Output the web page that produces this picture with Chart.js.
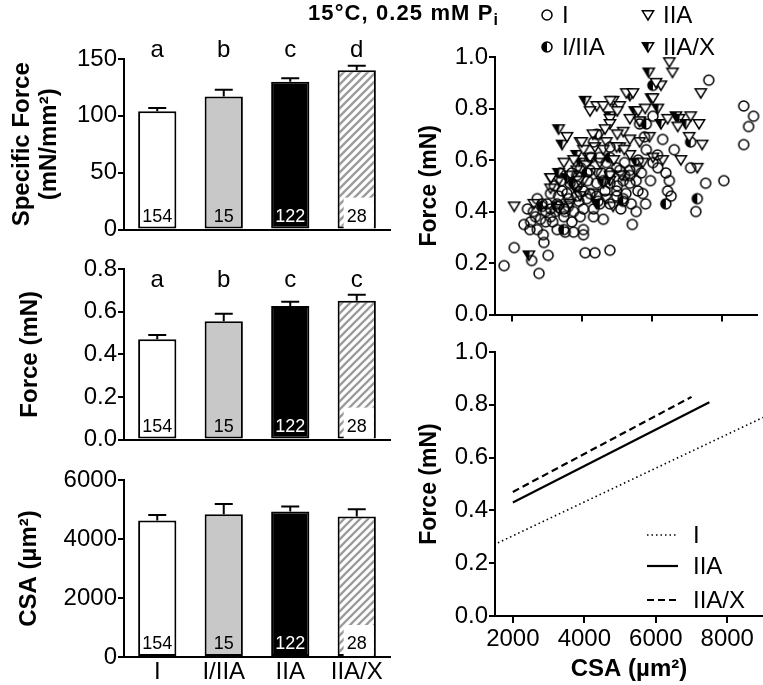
<!DOCTYPE html>
<html>
<head>
<meta charset="utf-8">
<script src="https://cdn.jsdelivr.net/npm/chart.js@4/dist/chart.umd.min.js"></script>
<style>
  body { margin: 0; background: #fff; }
  #wrap { position: relative; width: 763px; height: 685px; overflow: hidden; }
  canvas { position: absolute; }
  #title {
    position: absolute; left: 308px; top: 0px;
    font: bold 22px "Liberation Sans", Arial, sans-serif; letter-spacing: 1.1px;
    color: #000; white-space: nowrap;
  }
  #title sub { font-size: 16px; }
</style>
</head>
<body>
<div id="wrap">
  <canvas id="cA" width="392" height="245" style="left:0;top:0"></canvas>
  <canvas id="cB" width="392" height="210" style="left:0;top:245px"></canvas>
  <canvas id="cC" width="392" height="230" style="left:0;top:455px"></canvas>
  <canvas id="cD" width="378" height="330" style="left:385px;top:0"></canvas>
  <canvas id="cE" width="378" height="355" style="left:385px;top:330px"></canvas>
  <div id="title">15°C, 0.25 mM P<sub>i</sub></div>
</div>
<script>
// ---- data ----
const categories = ['I', 'I/IIA', 'IIA', 'IIA/X'];
const nFibers = [154, 15, 122, 28];

const specForce = [104, 117, 130, 140];
const specForceSem = [3, 6, 3, 4];
const specForceLetters = ['a', 'b', 'c', 'd'];

const force = [0.47, 0.555, 0.627, 0.651];
const forceSem = [0.021, 0.035, 0.02, 0.028];
const forceLetters = ['a', 'b', 'c', 'c'];

const csa = [4630, 4840, 4930, 4760];
const csaSem = [180, 350, 170, 250];

const csaTicks = [2000, 4000, 6000, 8000];

// scatter: type I fibres
const csaI = [1760, 2050, 2550, 2760, 3020, 2900, 2880, 2520, 2500, 2660, 2800, 2950, 2710, 2850, 3090, 3280, 3510, 3750,
  4030, 4030, 4080, 4360, 4790, 4320, 4600, 4030, 3470, 3610, 3840, 4130, 4410, 4790, 4980, 5170, 5400, 5590, 5730, 5810,
  5540, 5430, 5360, 5690, 6020, 6160, 6390, 6490, 6440, 6540, 6630, 6300, 5830, 5780, 5640, 6020, 7100, 7250, 7530, 8050,
  7620, 8620, 8900, 8760, 8620, 5360, 5170, 4790, 4500, 4320, 4220, 3840, 3650, 3420, 3280, 3230, 3470, 3750, 3940, 4320,
  4790, 4980, 5070, 4690, 3090, 2990, 3320, 3560, 3840, 4030, 4220, 4410, 4600, 4790, 4980, 5210, 5360, 5540, 3370, 3510,
  3700, 3090, 2710, 2330, 2430, 3200, 3600, 3900, 4150, 4450, 4650, 5000, 5250, 2600, 2950, 3150, 3950, 4250, 4550, 5100,
  5600, 5950, 6150, 3400, 3700];
const forceI = [0.19, 0.26, 0.21, 0.16, 0.23, 0.28, 0.31, 0.36, 0.33, 0.38, 0.37, 0.36, 0.45, 0.43, 0.41, 0.33, 0.32, 0.32,
  0.33, 0.31, 0.24, 0.24, 0.25, 0.38, 0.37, 0.41, 0.41, 0.45, 0.46, 0.45, 0.46, 0.43, 0.46, 0.45, 0.43, 0.48, 0.47, 0.43,
  0.40, 0.35, 0.51, 0.55, 0.59, 0.57, 0.55, 0.52, 0.48, 0.46, 0.64, 0.68, 0.64, 0.69, 0.74, 0.77, 0.57, 0.40, 0.51, 0.52,
  0.91, 0.81, 0.77, 0.73, 0.66, 0.56, 0.52, 0.65, 0.61, 0.67, 0.56, 0.54, 0.51, 0.48, 0.43, 0.40, 0.38, 0.40, 0.38, 0.41,
  0.51, 0.48, 0.56, 0.59, 0.47, 0.43, 0.46, 0.47, 0.50, 0.48, 0.47, 0.51, 0.52, 0.55, 0.57, 0.59, 0.54, 0.52, 0.55, 0.40,
  0.36, 0.38, 0.33, 0.35, 0.41, 0.50, 0.42, 0.44, 0.52, 0.44, 0.48, 0.50, 0.47, 0.40, 0.40, 0.36, 0.57, 0.61, 0.55, 0.41,
  0.60, 0.52, 0.62, 0.52, 0.55];

// scatter: type IIA fibres
const csaIIA = [2050, 2610, 3090, 3560, 3940, 4410, 4600, 4880, 5070, 5260, 5450, 4220, 4790, 5360, 5640, 6020, 6250, 6490,
  6580, 6110, 7390, 7100, 7340, 7430, 7060, 6730, 6440, 6300, 6820, 7290, 6020, 5920, 5640, 5360, 5170, 4790, 4690, 4360,
  4030, 3750, 4220, 4600, 4980, 5360, 5730, 5540, 3470, 3840, 3090, 3320, 3650, 4030, 4410, 4790, 5120, 4880, 4690, 4320,
  3940, 3650, 3320, 4800, 5000, 3980, 3100, 4100, 4500, 4900, 5200, 3900, 4300, 4650, 5000, 5600, 5800];
const forceIIA = [0.42, 0.43, 0.53, 0.69, 0.67, 0.81, 0.81, 0.83, 0.81, 0.86, 0.86, 0.79, 0.76, 0.76, 0.75, 0.84, 0.89, 0.98,
  0.94, 0.90, 0.86, 0.77, 0.74, 0.66, 0.69, 0.73, 0.76, 0.60, 0.60, 0.57, 0.61, 0.69, 0.67, 0.68, 0.71, 0.74, 0.67, 0.65,
  0.64, 0.60, 0.61, 0.64, 0.65, 0.62, 0.59, 0.56, 0.59, 0.56, 0.49, 0.52, 0.54, 0.52, 0.55, 0.54, 0.54, 0.42, 0.45, 0.47,
  0.46, 0.43, 0.41, 0.83, 0.79, 0.67, 0.53, 0.58, 0.59, 0.60, 0.64, 0.52, 0.70, 0.72, 0.70, 0.79, 0.80];

// scatter: hybrid I/IIA fibres
const csaMix = [6020, 7100, 7290, 6390, 5170, 4500, 3470, 3280, 5210, 4130, 4410, 4790, 5830, 3750, 2850];
const forceMix = [0.89, 0.67, 0.45, 0.43, 0.44, 0.43, 0.33, 0.42, 0.54, 0.55, 0.70, 0.61, 0.74, 0.51, 0.42];

// scatter: hybrid IIA/X fibres
const csaIIAX = [3320, 3420, 4080, 5900, 5970, 6160, 5360, 4790, 4500, 5070, 5540, 5500, 5640, 6250, 6680, 6770, 6960,
  3840, 3320, 4220, 2470, 3560, 4790, 4410, 3940, 4600, 3280, 3840];
const forceIIAX = [0.72, 0.66, 0.83, 0.94, 0.84, 0.80, 0.85, 0.77, 0.70, 0.65, 0.59, 0.79, 0.75, 0.74, 0.77, 0.76, 0.74,
  0.62, 0.55, 0.60, 0.23, 0.53, 0.52, 0.43, 0.59, 0.51, 0.42, 0.48];

// regression lines (end points)
const fitCsaI = [1580, 9000];
const fitForceI = [0.277, 0.752];
const fitCsaIIA = [2000, 7500];
const fitForceIIA = [0.43, 0.81];
const fitCsaIIAX = [2000, 7000];
const fitForceIIAX = [0.47, 0.83];

// ---- shared styling ----
const FONT = '"Liberation Sans", Arial, Helvetica, sans-serif';
const TICK_SIZE = 24;
Chart.defaults.font.family = FONT;
Chart.defaults.color = '#000';

function makeHatch(ctx) {
    const c = document.createElement('canvas');
    c.width = 8; c.height = 8;
    const g = c.getContext('2d');
    g.fillStyle = '#fff';
    g.fillRect(0, 0, 8, 8);
    g.strokeStyle = '#9c9c9c';
    g.lineWidth = 2.3;
    g.beginPath();
    g.moveTo(-2, 10); g.lineTo(10, -2);
    g.moveTo(-2, 2); g.lineTo(2, -2);
    g.moveTo(6, 10); g.lineTo(10, 6);
    g.stroke();
    return ctx.createPattern(c, 'repeat');
}

// small marker images for the scatter and its legend
function makeMarker(kind) {
    const s = 16, m = s / 2;
    const c = document.createElement('canvas');
    c.width = s; c.height = s;
    const g = c.getContext('2d');
    g.strokeStyle = '#000';
    g.lineWidth = 1.5;
    if (kind === 'circle' || kind === 'halfCircle') {
        const r = 5;
        if (kind === 'halfCircle') {
            g.fillStyle = '#fff';
            g.beginPath(); g.arc(m, m, r, 0, Math.PI * 2); g.fill();
            g.fillStyle = '#000';
            g.beginPath(); g.arc(m, m, r, Math.PI / 2, Math.PI * 1.5); g.closePath(); g.fill();
        }
        g.beginPath(); g.arc(m, m, r, 0, Math.PI * 2); g.stroke();
    } else {
        const top = m - 4.2, bot = m + 5, hw = 5.6;
        g.fillStyle = '#fff';
        g.beginPath(); g.moveTo(m - hw, top); g.lineTo(m + hw, top); g.lineTo(m, bot); g.closePath(); g.fill();
        if (kind === 'halfTri') {
            g.fillStyle = '#000';
            g.beginPath(); g.moveTo(m - hw, top); g.lineTo(m + 0.8, top); g.lineTo(m, bot); g.closePath(); g.fill();
        }
        g.beginPath(); g.moveTo(m - hw, top); g.lineTo(m + hw, top); g.lineTo(m, bot); g.closePath(); g.stroke();
    }
    return c;
}

const markers = {
    I: makeMarker('circle'),
    IIA: makeMarker('tri'),
    mix: makeMarker('halfCircle'),
    IIAX: makeMarker('halfTri')
};

function tickGrid() {
    return { display: true, drawOnChartArea: false, drawTicks: true, tickLength: 6, color: '#000', lineWidth: 2 };
}

// error bars (upper only), group letters and n inside bars
function barExtras(sem, letters, letterOffset) {
    return {
        id: 'barExtras',
        afterDatasetsDraw(chart) {
            const ctx = chart.ctx;
            const ys = chart.scales.y;
            const meta = chart.getDatasetMeta(0);
            const vals = chart.data.datasets[0].data;
            ctx.save();
            meta.data.forEach((bar, i) => {
                const yTop = ys.getPixelForValue(vals[i]);
                const yErr = ys.getPixelForValue(vals[i] + sem[i]);
                ctx.strokeStyle = '#000';
                ctx.lineWidth = 2;
                ctx.beginPath();
                ctx.moveTo(bar.x, yTop);
                ctx.lineTo(bar.x, yErr);
                ctx.moveTo(bar.x - 9, yErr);
                ctx.lineTo(bar.x + 9, yErr);
                ctx.stroke();

                const bottom = chart.chartArea.bottom;
                if (i === 3) {
                    ctx.fillStyle = '#fff';
                    ctx.fillRect(bar.x - bar.width / 2 + 6, bottom - 32, bar.width - 8, 31);
                }
                ctx.fillStyle = i === 2 ? '#fff' : '#000';
                ctx.font = '18px ' + FONT;
                ctx.textAlign = 'center';
                ctx.textBaseline = 'alphabetic';
                ctx.fillText(String(nFibers[i]), bar.x, bottom - 8);

                if (letters) {
                    ctx.fillStyle = '#000';
                    ctx.font = '24px ' + FONT;
                    ctx.fillText(letters[i], bar.x, chart.chartArea.top + letterOffset);
                }
            });
            ctx.restore();
        }
    };
}

function barChart(id, values, sem, letters, letterOffset, yOpts, titleText, titlePad, padding, xHeight, showLabels) {
    const ctx = document.getElementById(id).getContext('2d');
    const fills = ['#ffffff', '#c8c8c8', '#000000', makeHatch(ctx)];
    return new Chart(ctx, {
        type: 'bar',
        data: {
            labels: categories,
            datasets: [{
                data: values,
                backgroundColor: fills,
                borderColor: '#000',
                borderWidth: 2,
                borderSkipped: false,
                barPercentage: 0.575,
                categoryPercentage: 1
            }]
        },
        options: {
            responsive: false,
            animation: false,
            events: [],
            layout: { padding: padding },
            plugins: { legend: { display: false }, tooltip: { enabled: false } },
            scales: {
                x: {
                    offset: true,
                    grid: { display: false, drawTicks: false },
                    border: { display: true, color: '#000', width: 2 },
                    ticks: { display: showLabels, font: { size: TICK_SIZE }, color: '#000', padding: 1, maxRotation: 0 },
                    afterFit: s => { s.height = xHeight; }
                },
                y: Object.assign({
                    grid: tickGrid(),
                    border: { color: '#000', width: 2 },
                    title: {
                        display: true, text: titleText, color: '#000',
                        font: { size: 24, weight: 'bold', lineHeight: 1.12 },
                        padding: { top: titlePad, bottom: 0 }
                    },
                    afterFit: s => { s.width = 124; }
                }, yOpts)
            }
        },
        plugins: [barExtras(sem, letters, letterOffset)]
    });
}

barChart('cA', specForce, specForceSem, specForceLetters, -2,
    { min: 0, max: 150, ticks: { stepSize: 50, font: { size: TICK_SIZE }, color: '#000', padding: 1, callback: v => String(v) } },
    ['Specific Force', '(mN/mm²)'], 9, { left: 0, right: 2, top: 59, bottom: 8 }, 2, false);

barChart('cB', force, forceSem, forceLetters, 18,
    { min: 0, max: 0.8, ticks: { stepSize: 0.2, font: { size: TICK_SIZE }, color: '#000', padding: 1, callback: v => v.toFixed(1) } },
    'Force (mN)', 17, { left: 0, right: 2, top: 24, bottom: 7 }, 2, false);

barChart('cC', csa, csaSem, null, 0,
    { min: 0, max: 6000, ticks: { stepSize: 2000, font: { size: TICK_SIZE }, color: '#000', padding: 1, callback: v => String(v) } },
    'CSA (µm²)', 16, { left: 0, right: 2, top: 25, bottom: 0 }, 28, true);

// ---- right side ----
function xyData(xs, ys) {
    return xs.map((x, i) => ({ x: x, y: ys[i] }));
}

function rightScales(showX) {
    return {
        x: {
            type: 'linear', min: 1500, max: 9000,
            afterBuildTicks: s => { s.ticks = csaTicks.map(v => ({ value: v })); },
            grid: { display: true, drawOnChartArea: false, drawTicks: true, tickLength: 7, color: '#000', lineWidth: 2 },
            border: { color: '#000', width: 2 },
            ticks: { display: showX, font: { size: TICK_SIZE }, color: '#000', padding: 2, maxRotation: 0, callback: v => String(v) },
            title: {
                display: showX, text: 'CSA (µm²)', color: '#000',
                font: { size: 24, weight: 'bold', lineHeight: 1.12 },
                padding: { top: 0, bottom: 2 }
            },
            afterFit: s => { s.height = showX ? 69 : 8; }
        },
        y: {
            min: 0, max: 1,
            ticks: { stepSize: 0.2, font: { size: TICK_SIZE }, color: '#000', padding: 1, callback: v => v.toFixed(1) },
            grid: tickGrid(),
            border: { color: '#000', width: 2 },
            title: {
                display: true, text: 'Force (mN)', color: '#000',
                font: { size: 23, weight: 'bold', lineHeight: 1.12 },
                padding: { top: 32, bottom: 0 }
            },
            afterFit: s => { s.width = 110; }
        }
    };
}

const scatterLegend = {
    id: 'scatterLegend',
    afterDraw(chart) {
        const ctx = chart.ctx;
        const items = [
            { img: markers.I, label: 'I', x: 162, y: 15 },
            { img: markers.IIA, label: 'IIA', x: 263, y: 15 },
            { img: markers.mix, label: 'I/IIA', x: 162, y: 47 },
            { img: markers.IIAX, label: 'IIA/X', x: 263, y: 47 }
        ];
        ctx.save();
        ctx.font = '24px ' + FONT;
        ctx.fillStyle = '#000';
        ctx.textBaseline = 'middle';
        items.forEach(it => {
            ctx.drawImage(it.img, it.x - it.img.width / 2, it.y - it.img.height / 2);
            ctx.fillText(it.label, it.x + 15, it.y + 1);
        });
        ctx.restore();
    }
};

new Chart(document.getElementById('cD'), {
    type: 'scatter',
    data: {
        datasets: [
            { label: 'I', data: xyData(csaI, forceI), pointStyle: markers.I, pointRadius: 5, clip: false },
            { label: 'IIA', data: xyData(csaIIA, forceIIA), pointStyle: markers.IIA, pointRadius: 5, clip: false },
            { label: 'I/IIA', data: xyData(csaMix, forceMix), pointStyle: markers.mix, pointRadius: 5, clip: false },
            { label: 'IIA/X', data: xyData(csaIIAX, forceIIAX), pointStyle: markers.IIAX, pointRadius: 5, clip: false }
        ]
    },
    options: {
        responsive: false,
        animation: false,
        events: [],
        layout: { padding: { left: 0, right: 0, top: 57, bottom: 0 } },
        plugins: { legend: { display: false }, tooltip: { enabled: false } },
        scales: rightScales(false)
    },
    plugins: [scatterLegend]
});

const lineStyles = [
    { label: 'I', dash: [1.5, 3], width: 1.6 },
    { label: 'IIA', dash: [], width: 2.2 },
    { label: 'IIA/X', dash: [7, 4], width: 2.2 }
];

const lineLegend = {
    id: 'lineLegend',
    afterDraw(chart) {
        const ctx = chart.ctx;
        const rows = [205, 236, 270];
        ctx.save();
        ctx.font = '24px ' + FONT;
        ctx.fillStyle = '#000';
        ctx.strokeStyle = '#000';
        ctx.textBaseline = 'middle';
        lineStyles.forEach((st, i) => {
            ctx.lineWidth = st.width;
            ctx.setLineDash(st.dash);
            ctx.beginPath();
            ctx.moveTo(262, rows[i]);
            ctx.lineTo(293, rows[i]);
            ctx.stroke();
            ctx.fillText(st.label, 308, rows[i] + 1);
        });
        ctx.restore();
    }
};

new Chart(document.getElementById('cE'), {
    type: 'scatter',
    data: {
        datasets: [
            { data: xyData(fitCsaI, fitForceI), borderDash: lineStyles[0].dash, borderWidth: lineStyles[0].width },
            { data: xyData(fitCsaIIA, fitForceIIA), borderDash: lineStyles[1].dash, borderWidth: lineStyles[1].width },
            { data: xyData(fitCsaIIAX, fitForceIIAX), borderDash: lineStyles[2].dash, borderWidth: lineStyles[2].width }
        ].map(d => Object.assign(d, { showLine: true, pointRadius: 0, borderColor: '#000', fill: false, clip: false }))
    },
    options: {
        responsive: false,
        animation: false,
        events: [],
        layout: { padding: { left: 0, right: 0, top: 22, bottom: 0 } },
        plugins: { legend: { display: false }, tooltip: { enabled: false } },
        scales: rightScales(true)
    },
    plugins: [lineLegend]
});
</script>
</body>
</html>
